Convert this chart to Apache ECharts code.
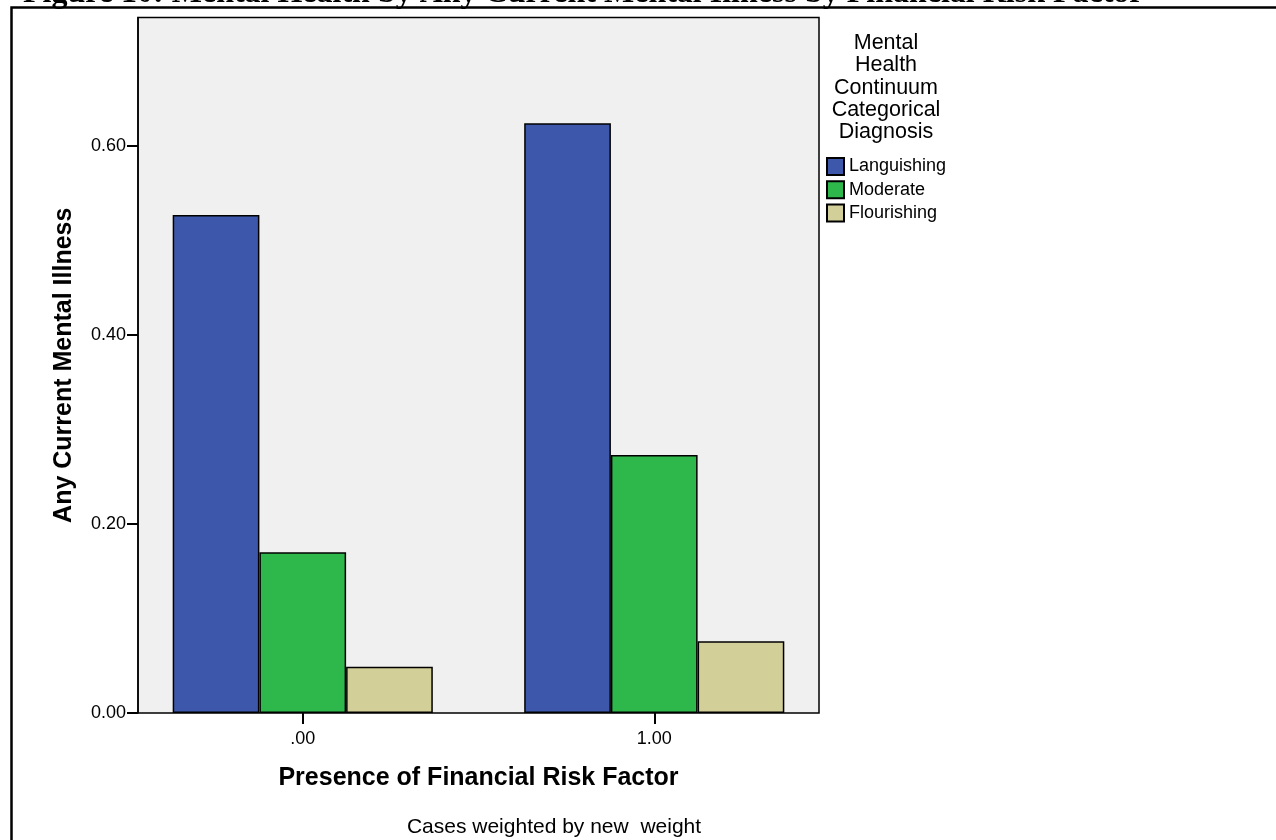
<!DOCTYPE html>
<html>
<head>
<meta charset="utf-8">
<script src="https://cdn.jsdelivr.net/npm/echarts@6/dist/echarts.min.js"></script>
<style>
	html, body { margin: 0; padding: 0; background: #fff; }
	#chart { width: 1276px; height: 840px; }
</style>
</head>
<body>
<div id="chart"></div>
<script>
var categories = ['.00', '1.00'];
var seriesNames = ['Languishing', 'Moderate', 'Flourishing'];
var languishing = [0.527, 0.624];
var moderate = [0.170, 0.273];
var flourishing = [0.049, 0.076];
var yTicks = [0, 0.2, 0.4, 0.6];
var yMax = 0.736;

var colors = ['#3d58ab', '#2eb84b', '#d3cf98'];
var font = 'Liberation Sans, Arial, sans-serif';

var chart = echarts.init(document.getElementById('chart'));

var barStyle = function(i) {
	return {
		color: colors[i],
		borderColor: '#000',
		borderWidth: 1.5
	};
};

var option = {
	animation: false,
	textStyle: { fontFamily: font, color: '#000' },
	grid: [{
		// bars
		left: 127,
		right: 446,
		top: 17.5,
		bottom: 127
	}, {
		// plot frame
		left: 138,
		right: 457,
		top: 17.5,
		bottom: 127,
		show: true,
		backgroundColor: '#f0f0f0',
		borderColor: '#000',
		borderWidth: 1.5
	}],
	xAxis: [{
		type: 'category',
		gridIndex: 0,
		data: categories,
		axisLine: { show: false },
		axisTick: {
			show: true,
			alignWithLabel: true,
			length: 11,
			lineStyle: { color: '#000', width: 2 }
		},
		axisLabel: { fontSize: 18, color: '#000', margin: 17, fontFamily: font },
		name: 'Presence of Financial Risk Factor',
		nameLocation: 'middle',
		nameGap: 53,
		nameTextStyle: { fontSize: 25, fontWeight: 'bold', color: '#000', fontFamily: font }
	}, {
		type: 'value',
		gridIndex: 1,
		min: 0,
		max: 1,
		show: false
	}],
	yAxis: [{
		type: 'value',
		gridIndex: 0,
		min: 0,
		max: yMax,
		show: false
	}, {
		type: 'value',
		gridIndex: 1,
		min: 0,
		max: yMax,
		interval: 0.2,
		axisLine: { show: true, lineStyle: { color: '#000', width: 1.5 } },
		axisTick: {
			show: true,
			length: 11,
			customValues: yTicks,
			lineStyle: { color: '#000', width: 2 }
		},
		axisLabel: {
			fontSize: 18,
			color: '#000',
			margin: 12,
			fontFamily: font,
			customValues: yTicks,
			formatter: function(v) {
				return v.toFixed(2);
			}
		},
		splitLine: { show: false },
		name: 'Any Current Mental Illness',
		nameLocation: 'middle',
		nameRotate: 90,
		nameGap: 61,
		nameTextStyle: { fontSize: 25, fontWeight: 'bold', color: '#000', fontFamily: font }
	}],
	legend: {
		orient: 'vertical',
		left: 826,
		top: 157,
		padding: 0,
		itemWidth: 17,
		itemHeight: 17,
		itemGap: 4.2,
		icon: 'rect',
		data: seriesNames,
		textStyle: { fontSize: 18, lineHeight: 17, color: '#000', fontFamily: font }
	},
	graphic: [{
		type: 'text',
		style: {
			text: 'Figure 10: Mental Health by Any Current Mental Illness by Financial Risk Factor',
			x: 23,
			y: 10,
			verticalAlign: 'bottom',
			font: 'bold 32px "Liberation Serif", "Times New Roman", serif',
			fill: '#000'
		}
	}, {
		type: 'rect',
		shape: { x: 11.5, y: 7.5, width: 1400, height: 900 },
		style: { fill: 'none', stroke: '#000', lineWidth: 2.5 }
	}, {
		type: 'text',
		style: {
			text: 'Mental\nHealth\nContinuum\nCategorical\nDiagnosis',
			x: 886,
			y: 32,
			align: 'center',
			verticalAlign: 'top',
			lineHeight: 22.3,
			font: '21.5px "Liberation Sans", Arial, sans-serif',
			fill: '#000'
		}
	}, {
		type: 'text',
		style: {
			text: 'Cases weighted by new  weight',
			x: 554,
			y: 827,
			align: 'center',
			verticalAlign: 'middle',
			font: '21px "Liberation Sans", Arial, sans-serif',
			fill: '#000'
		}
	}],
	series: [{
		name: seriesNames[0],
		type: 'bar',
		xAxisIndex: 0,
		yAxisIndex: 0,
		barGap: '0%',
		barCategoryGap: '26%',
		itemStyle: barStyle(0),
		data: languishing
	}, {
		name: seriesNames[1],
		type: 'bar',
		xAxisIndex: 0,
		yAxisIndex: 0,
		barGap: '0%',
		barCategoryGap: '26%',
		itemStyle: barStyle(1),
		data: moderate
	}, {
		name: seriesNames[2],
		type: 'bar',
		xAxisIndex: 0,
		yAxisIndex: 0,
		barGap: '0%',
		barCategoryGap: '26%',
		itemStyle: barStyle(2),
		data: flourishing
	}]
};

chart.setOption(option);
</script>
</body>
</html>
